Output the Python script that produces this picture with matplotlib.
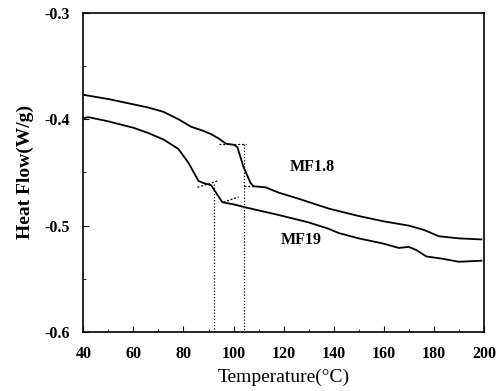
import matplotlib
matplotlib.use('Agg')
import matplotlib.pyplot as plt
from matplotlib.ticker import MultipleLocator

plt.rcParams['font.family'] = 'Liberation Serif'

# MF1.8 curve
t_mf18 = [40, 50, 60, 66, 72, 78, 83, 88, 91, 94, 97, 100, 101.5, 104, 106.8, 108,
          112.8, 118, 125, 138, 150, 160, 170, 176, 182, 190, 199]
hf_mf18 = [-0.377, -0.381, -0.386, -0.389, -0.393, -0.400, -0.407, -0.411, -0.414,
           -0.418, -0.423, -0.424, -0.426, -0.445, -0.460, -0.463, -0.464, -0.469,
           -0.474, -0.484, -0.491, -0.496, -0.500, -0.504, -0.510, -0.512, -0.513]

# MF19 curve
t_mf19 = [40, 42, 50, 60, 66, 72, 78, 82, 86, 88, 91, 93, 95.5, 100, 105, 118, 130,
          138, 142, 150, 160, 166, 170, 173, 177, 183, 190, 199]
hf_mf19 = [-0.399, -0.398, -0.402, -0.408, -0.413, -0.419, -0.428, -0.441, -0.458,
           -0.460, -0.462, -0.469, -0.478, -0.480, -0.483, -0.490, -0.497, -0.503,
           -0.507, -0.512, -0.517, -0.521, -0.520, -0.523, -0.529, -0.531, -0.534,
           -0.533]

# onset tangent segments and drop lines
tan_mf19 = [([85.6, 93.6], [-0.464, -0.458]), ([96.0, 102.0], [-0.478, -0.473])]
tan_mf18 = [([94.0, 105.0], [-0.423, -0.423]), ([104.0, 108.6], [-0.463, -0.463])]
onset_t = [92, 104]
onset_hf = [-0.461, -0.423]

fig = plt.figure(figsize=(5.02, 3.91), dpi=100)
ax = fig.add_axes([0.166, 0.151, 0.798, 0.816])

ax.plot(t_mf18, hf_mf18, color='black', lw=1.3)
ax.plot(t_mf19, hf_mf19, color='black', lw=1.3)
for xs, ys in tan_mf19 + tan_mf18:
    ax.plot(xs, ys, color='black', lw=0.9, ls=(0, (1.5, 1.5)))
for t, h in zip(onset_t, onset_hf):
    ax.plot([t, t], [h, -0.6], color='black', lw=0.9, ls=(0, (1, 1.5)))

ax.text(131.4, -0.445, 'MF1.8', fontsize=11.5, fontweight='bold', ha='center', va='center')
ax.text(127, -0.514, 'MF19', fontsize=11.5, fontweight='bold', ha='center', va='center')

ax.set_xlim(40, 200)
ax.set_ylim(-0.6, -0.3)
ax.xaxis.set_major_locator(MultipleLocator(20))
ax.xaxis.set_minor_locator(MultipleLocator(10))
ax.yaxis.set_minor_locator(MultipleLocator(0.05))
ax.set_yticks([-0.6, -0.5, -0.4, -0.3])
ax.set_yticklabels(['-0.6', '-0.5', '-0.4', '-0.3'])
ax.tick_params(which='both', direction='in', top=False, right=False, labelsize=11.5)
ax.tick_params(which='major', length=4)
ax.tick_params(which='minor', length=2.5)
ax.tick_params(axis='y', pad=10)
ax.tick_params(axis='x', pad=10)
for lab in ax.get_xticklabels() + ax.get_yticklabels():
    lab.set_fontweight('bold')
for s in ax.spines.values():
    s.set_linewidth(1.2)

ax.set_xlabel('Temperature(°C)', fontsize=14, labelpad=5)
ax.set_ylabel('Heat Flow(W/g)', fontsize=14, fontweight='bold', labelpad=7)

fig.savefig('out.png', dpi=100)
